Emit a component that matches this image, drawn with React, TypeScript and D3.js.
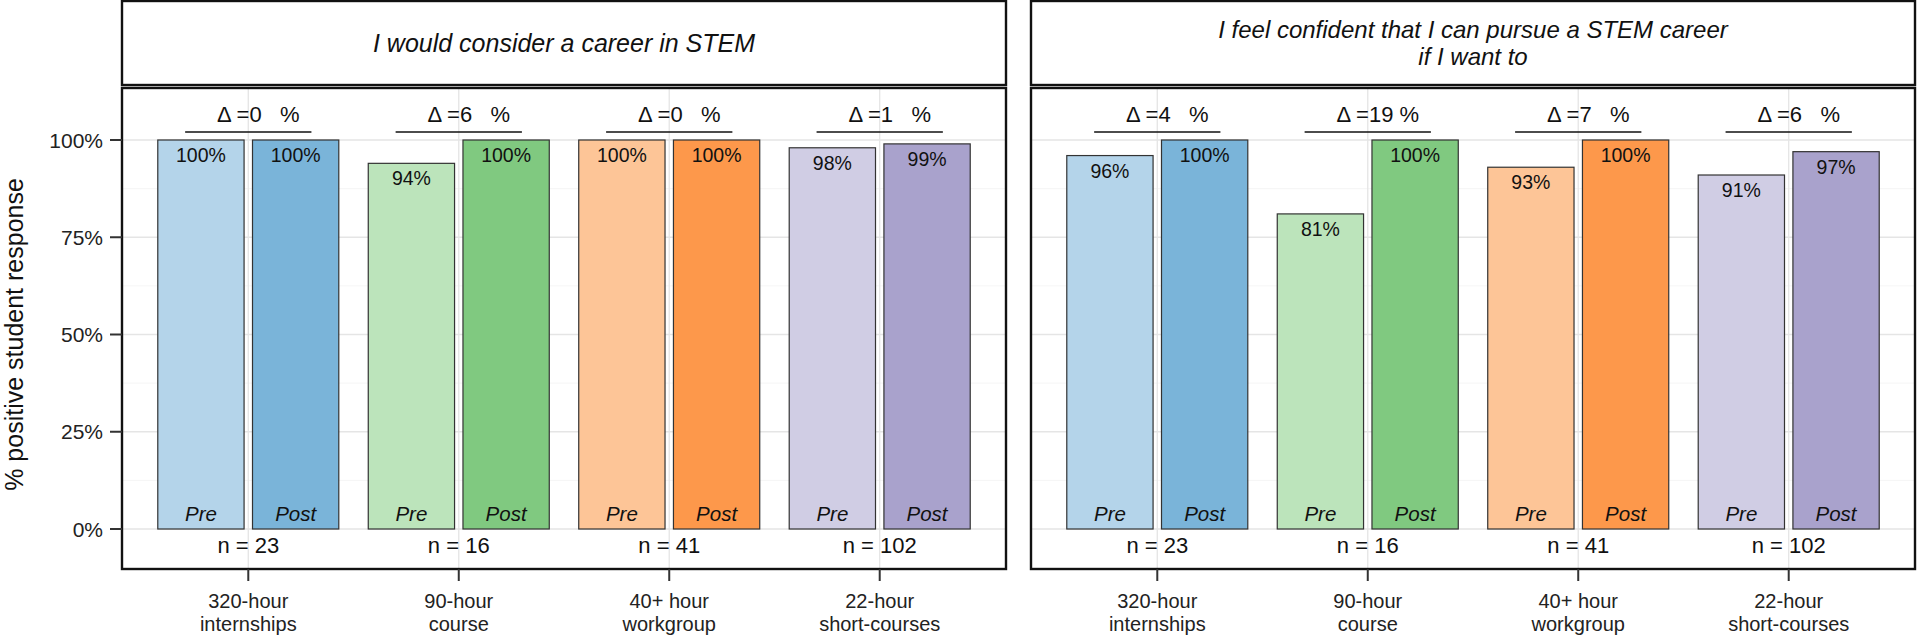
import { useEffect, useRef } from 'react';
import * as d3 from 'd3';

const categories = ['320-hour internships', '90-hour course', '40+ hour workgroup', '22-hour short-courses'];
const categoryLines = [['320-hour', 'internships'], ['90-hour', 'course'], ['40+ hour', 'workgroup'], ['22-hour', 'short-courses']];
const sampleSizes = [23, 16, 41, 102];
const phases = ['Pre', 'Post'];

const considerTitle = ['I would consider a career in STEM'];
const considerPre = [100, 94, 100, 98];
const considerPost = [100, 100, 100, 99];
const considerDelta = [0, 6, 0, 1];

const confidentTitle = ['I feel confident that I can pursue a STEM career', 'if I want to'];
const confidentPre = [96, 81, 93, 91];
const confidentPost = [100, 100, 100, 97];
const confidentDelta = [4, 19, 7, 6];

const yTicks = [0, 25, 50, 75, 100];
const yMinorTicks = [12.5, 37.5, 62.5, 87.5];

const preColors = ['#b4d4ea', '#bce4bb', '#fdc597', '#d0cde4'];
const postColors = ['#7ab4d9', '#80c980', '#fd984b', '#a9a2cc'];

const FONT = '"Liberation Sans", Arial, Helvetica, sans-serif';

type Sel = d3.Selection<SVGSVGElement, unknown, null, undefined>;

function drawPanel(svg: Sel, left: number, right: number, title: string[], pre: number[], post: number[], delta: number[], showY: boolean) {
  const stripTop = 1, stripBottom = 85, top = 88, bottom = 569;
  const x = d3.scalePoint<string>().domain(categories).range([left, right]).padding(0.6);
  const step = x.step();
  const y = d3.scaleLinear().domain([0, 100]).range([529, 140]);
  const barW = step * 0.41;
  const offset = step * 0.225;

  const g = svg.append('g').style('font-family', FONT);

  // grid
  g.selectAll('.minor').data(yMinorTicks).join('line')
    .attr('x1', left).attr('x2', right)
    .attr('y1', d => y(d)).attr('y2', d => y(d))
    .attr('stroke', '#f2f2f2').attr('stroke-width', 0.8);
  g.selectAll('.major').data(yTicks).join('line')
    .attr('x1', left).attr('x2', right)
    .attr('y1', d => y(d)).attr('y2', d => y(d))
    .attr('stroke', '#e5e5e5').attr('stroke-width', 1.3);
  g.selectAll('.vmajor').data(categories).join('line')
    .attr('x1', d => x(d)!).attr('x2', d => x(d)!)
    .attr('y1', top).attr('y2', bottom)
    .attr('stroke', '#e5e5e5').attr('stroke-width', 1.3);

  // bars
  const bars = categories.flatMap((c, i) => [
    { c, i, phase: 'Pre', v: pre[i], fill: preColors[i], dx: -offset },
    { c, i, phase: 'Post', v: post[i], fill: postColors[i], dx: offset },
  ]);
  g.selectAll('.bar').data(bars).join('rect')
    .attr('x', d => x(d.c)! + d.dx - barW / 2)
    .attr('width', barW)
    .attr('y', d => y(d.v))
    .attr('height', d => y(0) - y(d.v))
    .attr('fill', d => d.fill)
    .attr('stroke', '#333')
    .attr('stroke-width', 1.2);

  g.selectAll('.val').data(bars).join('text')
    .attr('x', d => x(d.c)! + d.dx)
    .attr('y', d => y(d.v) + 22)
    .attr('text-anchor', 'middle')
    .style('font-size', '19.5px')
    .attr('fill', '#111')
    .text(d => `${d.v}%`);

  g.selectAll('.phase').data(bars).join('text')
    .attr('x', d => x(d.c)! + d.dx)
    .attr('y', y(0) - 8)
    .attr('text-anchor', 'middle')
    .style('font-size', '20.5px')
    .style('font-style', 'italic')
    .attr('fill', '#111')
    .text(d => phases[d.phase === 'Pre' ? 0 : 1]);

  // n labels
  g.selectAll('.n').data(categories).join('text')
    .attr('x', d => x(d)!)
    .attr('y', y(0) + 24)
    .attr('text-anchor', 'middle')
    .style('font-size', '22px')
    .attr('fill', '#111')
    .text((_d, i) => `n = ${sampleSizes[i]}`);

  // delta brackets
  g.selectAll('.dline').data(categories).join('line')
    .attr('x1', d => x(d)! - step * 0.3).attr('x2', d => x(d)! + step * 0.3)
    .attr('y1', y(100) - 8).attr('y2', y(100) - 8)
    .attr('stroke', '#111').attr('stroke-width', 1.6);
  g.selectAll('.dtext').data(categories).join('text')
    .attr('x', d => x(d)! + 10)
    .attr('y', y(100) - 18)
    .attr('text-anchor', 'middle')
    .style('font-size', '22px')
    .style('white-space', 'pre')
    .attr('fill', '#111')
    .text((_d, i) => `Δ =${delta[i]}${delta[i] < 10 ? '   ' : ' '}%`);

  // panel border and strip
  g.append('rect').attr('x', left).attr('y', top).attr('width', right - left).attr('height', bottom - top)
    .attr('fill', 'none').attr('stroke', '#111').attr('stroke-width', 2.4);
  g.append('rect').attr('x', left).attr('y', stripTop).attr('width', right - left).attr('height', stripBottom - stripTop)
    .attr('fill', '#fff').attr('stroke', '#111').attr('stroke-width', 2.4);
  const mid = (stripTop + stripBottom) / 2;
  const lh = 27;
  g.selectAll('.title').data(title).join('text')
    .attr('x', (left + right) / 2)
    .attr('y', (_d, i) => mid + (i - (title.length - 1) / 2) * lh)
    .attr('dominant-baseline', 'central')
    .attr('text-anchor', 'middle')
    .style('font-size', title.length > 1 ? '24px' : '25px')
    .style('font-style', 'italic')
    .attr('fill', '#111')
    .text(d => d);

  // x axis
  g.selectAll('.xtick').data(categories).join('line')
    .attr('x1', d => x(d)!).attr('x2', d => x(d)!)
    .attr('y1', bottom).attr('y2', bottom + 12)
    .attr('stroke', '#333').attr('stroke-width', 2);
  const xl = g.selectAll('.xlab').data(categories).join('text')
    .attr('text-anchor', 'middle')
    .style('font-size', '20px')
    .attr('fill', '#222');
  xl.selectAll('tspan').data((_d, i) => categoryLines[i].map(t => ({ t, i }))).join('tspan')
    .attr('x', d => x(categories[d.i])!)
    .attr('y', (_d, j) => 608 + j * 23)
    .text(d => d.t);

  if (showY) {
    g.selectAll('.ytick').data(yTicks).join('line')
      .attr('x1', left - 12).attr('x2', left)
      .attr('y1', d => y(d)).attr('y2', d => y(d))
      .attr('stroke', '#333').attr('stroke-width', 2);
    g.selectAll('.ylab').data(yTicks).join('text')
      .attr('x', left - 19)
      .attr('y', d => y(d))
      .attr('dominant-baseline', 'central')
      .attr('text-anchor', 'end')
      .style('font-size', '21px')
      .attr('fill', '#222')
      .text(d => `${d}%`);
    g.append('text')
      .attr('transform', `translate(23,${(y(0) + y(100)) / 2}) rotate(-90)`)
      .attr('text-anchor', 'middle')
      .style('font-size', '25px')
      .attr('fill', '#111')
      .text('% positive student response');
  }
}

export default function App() {
  const svgRef = useRef<SVGSVGElement>(null);

  useEffect(() => {
    if (!svgRef.current) return;
    const svg = d3.select(svgRef.current);
    svg.selectAll('*').remove();
    drawPanel(svg, 122, 1006, considerTitle, considerPre, considerPost, considerDelta, true);
    drawPanel(svg, 1031, 1915, confidentTitle, confidentPre, confidentPost, confidentDelta, false);
  }, []);

  return (
    <svg
      ref={svgRef}
      width={1920}
      height={635}
      style={{ position: 'absolute', left: 0, top: 0, background: '#fff' }}
    ></svg>
  );
}
